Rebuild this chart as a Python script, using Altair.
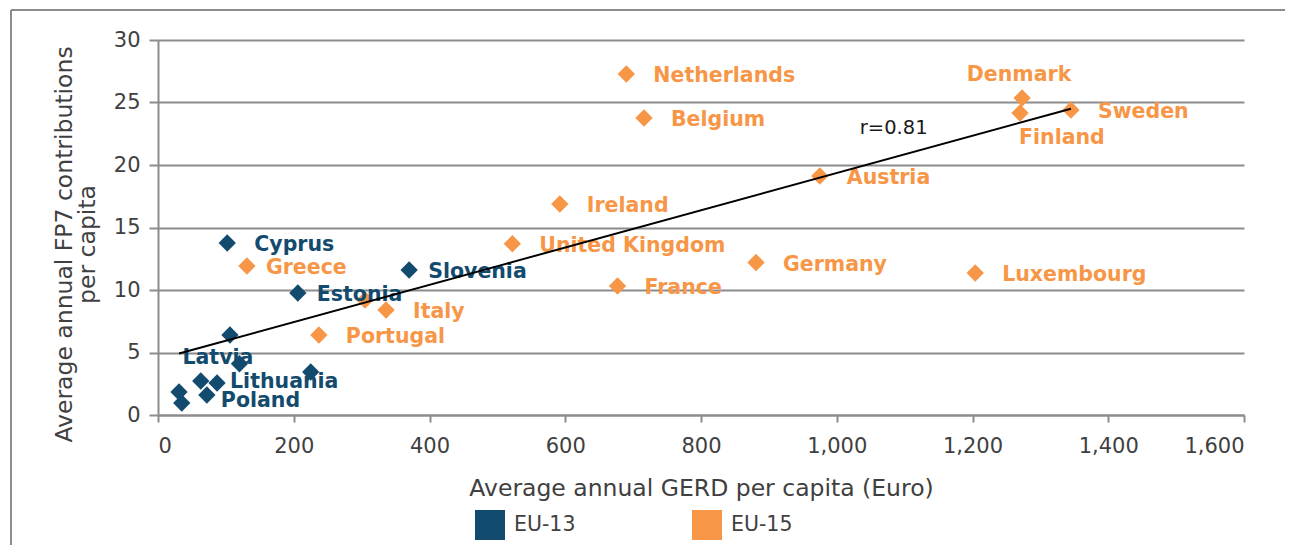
import altair as alt
import pandas as pd

# ---- data ----
countries = [
    "Cyprus", "Slovenia", "Estonia", "Malta", "Latvia", "Czech Republic",
    "Slovakia", "Lithuania", "Poland", "Bulgaria", "Romania",
    "Netherlands", "Belgium", "Denmark", "Finland", "Sweden", "Austria",
    "Ireland", "United Kingdom", "Germany", "Luxembourg", "France",
    "Greece", "Italy", "Portugal", "Spain",
]
gerd = [
    102, 370, 206, 106, 120, 225,
    63, 87, 72, 31, 35,
    690, 716, 1273, 1270, 1345, 975,
    592, 522, 881, 1204, 677,
    131, 336, 237, 305,
]
fp7 = [
    13.76, 11.6, 9.76, 6.4, 4.1, 3.44,
    2.72, 2.56, 1.6, 1.84, 0.96,
    27.28, 23.76, 25.36, 24.16, 24.4, 19.12,
    16.88, 13.7, 12.2, 11.36, 10.32,
    11.92, 8.4, 6.4, 9.2,
]
groups = ["EU-13"] * 11 + ["EU-15"] * 15
unlabeled = ["Malta", "Czech Republic", "Slovakia", "Bulgaria", "Romania", "Spain"]

group_domain = ["EU-13", "EU-15"]
group_colors = ["#134b6e", "#f79646"]

x_ticks = [0, 200, 400, 600, 800, 1000, 1200, 1400, 1600]
y_ticks = [0, 5, 10, 15, 20, 25, 30]
r_text = "r=0.81"

df = pd.DataFrame({"country": countries, "gerd": gerd, "fp7": fp7, "group": groups})
df["label"] = [("" if c in unlabeled else c) for c in countries]

FONT = "DejaVu Sans"
GRID = "#8c8c8c"
TXT = "#404040"
LBL_SIZE = 20.5

xscale = alt.Scale(domain=[0, 1600], nice=False)
yscale = alt.Scale(domain=[0, 30], nice=False)
cscale = alt.Scale(domain=group_domain, range=group_colors)

X = alt.X("gerd:Q", scale=xscale,
          axis=alt.Axis(values=x_ticks, format=",.0f", title="Average annual GERD per capita (Euro)",
                        grid=False, tickSize=7, labelPadding=13, titleY=73,
                        titleBaseline="middle"))
Y = alt.Y("fp7:Q", scale=yscale,
          axis=alt.Axis(values=y_ticks, title=["Average annual FP7 contributions", "per capita"],
                        grid=True, tickSize=9, labelPadding=9, titleX=-94, titleY=204,
                        titleAngle=270, titleAlign="center", titleBaseline="middle",
                        titleLineHeight=23))

base = alt.Chart(df)

points = base.mark_point(shape="diamond", filled=True, size=300, opacity=1).encode(
    x=X, y=Y,
    color=alt.Color("group:N", scale=cscale,
                    legend=alt.Legend(title=None, orient="none", legendX=317, legendY=470,
                                      direction="horizontal", symbolType="square",
                                      symbolSize=900, symbolStrokeWidth=0, labelFontSize=20.5,
                                      labelOffset=9, columnPadding=116, labelColor=TXT,
                                      labelFont=FONT, padding=0)),
)

special = {
    "Greece": (19, 2, "left"),
    "Slovenia": (19, 2, "left"),
    "Estonia": (19, 2, "left"),
    "Denmark": (-3, -23, "center"),
    "Finland": (-1, 25, "left"),
    "Latvia": (-57, -6, "left"),
    "Lithuania": (13, -1, "left"),
    "Poland": (14, 6, "left"),
}

label_layers = []
default = base.transform_filter(
    alt.FieldOneOfPredicate(field="label", oneOf=[c for c in countries if c not in special and c not in unlabeled])
).mark_text(align="left", baseline="middle", dx=27, dy=2, fontSize=LBL_SIZE, fontWeight="bold", font=FONT).encode(
    x="gerd:Q", y="fp7:Q", text="label:N",
    color=alt.Color("group:N", scale=cscale, legend=None))
label_layers.append(default)
for name, (dx, dy, al) in special.items():
    label_layers.append(
        base.transform_filter(alt.datum.label == name).mark_text(
            align=al, baseline="middle", dx=dx, dy=dy, fontSize=LBL_SIZE, fontWeight="bold", font=FONT
        ).encode(x="gerd:Q", y="fp7:Q", text="label:N",
                 color=alt.Color("group:N", scale=cscale, legend=None))
    )

trend = base.transform_regression("gerd", "fp7").mark_line(color="black", strokeWidth=2).encode(
    x="gerd:Q", y="fp7:Q")

rdf = pd.DataFrame({"x": [1034], "y": [22.96], "t": [r_text]})
rlabel = alt.Chart(rdf).mark_text(align="left", baseline="middle", fontSize=19.5, font=FONT,
                                  color="#1a1a1a").encode(x="x:Q", y="y:Q", text="t:N")

one = alt.Chart(pd.DataFrame({"a": [0]}))
frame_top = one.mark_rule(color=GRID, strokeWidth=2).encode(
    x=alt.value(-147), x2=alt.value(1200), y=alt.value(-30))
frame_left = one.mark_rule(color=GRID, strokeWidth=2).encode(
    x=alt.value(-147), y=alt.value(-30), y2=alt.value(600))

chart = alt.layer(frame_top, frame_left, points, *label_layers, trend, rlabel).properties(
    width=1086, height=375,
    autosize=alt.AutoSizeParams(type="none"),
    padding={"left": 150, "top": 32, "right": 41, "bottom": 130},
).configure_view(stroke=None).configure_axis(
    labelFont=FONT, titleFont=FONT, labelFontSize=21, titleFontSize=23.5,
    labelColor=TXT, titleColor=TXT, titleFontWeight="normal",
    domainColor=GRID, domainWidth=2, tickColor=GRID, tickWidth=2,
    gridColor=GRID, gridWidth=2,
)

chart.save("out.html", embed_options={"renderer": "svg", "actions": False})
